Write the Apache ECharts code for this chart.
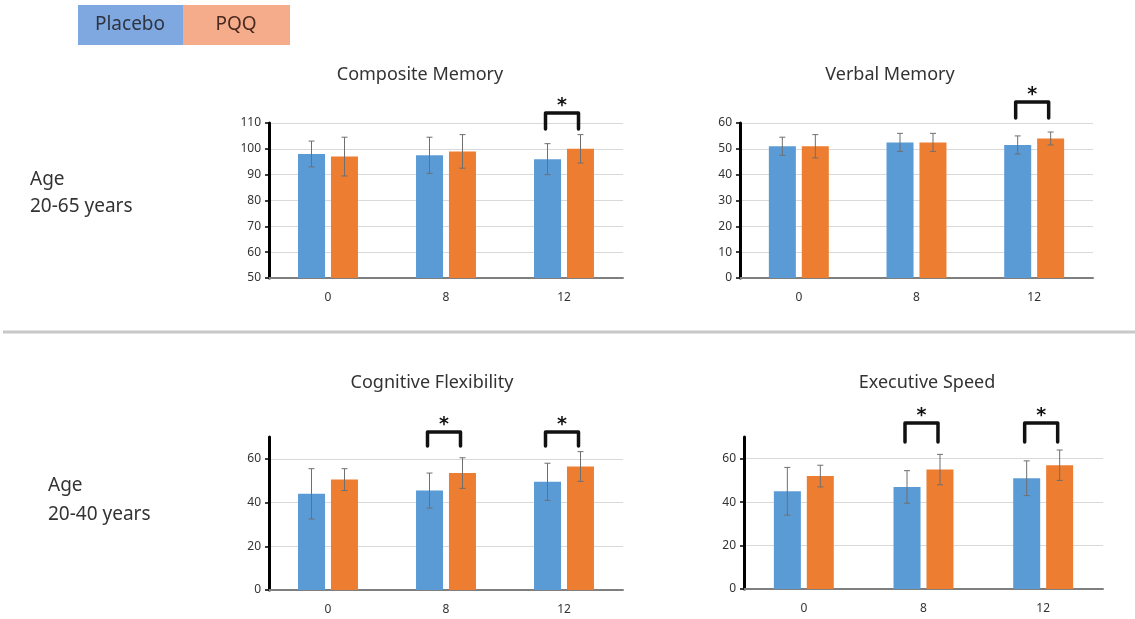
<!DOCTYPE html>
<html>
<head>
<meta charset="utf-8">
<script src="https://cdn.jsdelivr.net/npm/echarts@6/dist/echarts.min.js"></script>
<style>
  html, body { margin: 0; padding: 0; background: #fff; }
  #chart { width: 1135px; height: 619px; }
</style>
</head>
<body>
<div id="chart"></div>
<script>
// weeks
const categories = ['0', '8', '12'];

// Composite Memory (age 20-65)
const compPlacebo = [98, 97.5, 96];
const compPlaceboSd = [5, 7, 6];
const compPqq = [97, 99, 100];
const compPqqSd = [7.5, 6.5, 5.5];
const compSig = [[2, 113.9, 107.7]]; // [category, bracket top, leg end]

// Verbal Memory (age 20-65)
const verbPlacebo = [51, 52.5, 51.5];
const verbPlaceboSd = [3.5, 3.5, 3.5];
const verbPqq = [51, 52.5, 54];
const verbPqqSd = [4.5, 3.5, 2.5];
const verbSig = [[2, 68.1, 61.9]];

// Cognitive Flexibility (age 20-40)
const cogPlacebo = [44, 45.5, 49.5];
const cogPlaceboSd = [11.5, 8, 8.5];
const cogPqq = [50.5, 53.5, 56.5];
const cogPqqSd = [5, 7, 6.8];
const cogSig = [[1, 72.3, 65.9], [2, 72.3, 65.9]];

// Executive Speed (age 20-40)
const exePlacebo = [45, 47, 51];
const exePlaceboSd = [11, 7.5, 8];
const exePqq = [52, 55, 57];
const exePqqSd = [5, 7, 7];
const exeSig = [[1, 76.4, 67.7], [2, 76.4, 67.7]];

const panels = [
  { title: 'Composite Memory', min: 50, max: 110, step: 10, p: compPlacebo, ps: compPlaceboSd, q: compPqq, qs: compPqqSd, sig: compSig,
    grid: { left: 269, top: 123, right: 512, bottom: 341 }, tx: 420, ty: 75 },
  { title: 'Verbal Memory', min: 0, max: 60, step: 10, p: verbPlacebo, ps: verbPlaceboSd, q: verbPqq, qs: verbPqqSd, sig: verbSig,
    grid: { left: 740, top: 123, right: 42, bottom: 341 }, tx: 890, ty: 75 },
  { title: 'Cognitive Flexibility', min: 0, max: 70, step: 20, p: cogPlacebo, ps: cogPlaceboSd, q: cogPqq, qs: cogPqqSd, sig: cogSig,
    grid: { left: 269, top: 437, right: 512, bottom: 29 }, tx: 432, ty: 383 },
  { title: 'Executive Speed', min: 0, max: 70, step: 20, p: exePlacebo, ps: exePlaceboSd, q: exePqq, qs: exePqqSd, sig: exeSig,
    grid: { left: 744, top: 437, right: 32, bottom: 30 }, tx: 927, ty: 383 }
];

const BLUE = '#5B9BD5';
const ORANGE = '#ED7D31';
const BAR_W = 27;
const HALF = 16.5;

const errRender = (offset) => (params, api) => {
  const cat = api.value(0), m = api.value(1), s = api.value(2);
  const hi = api.coord([cat, m + s]);
  const lo = api.coord([cat, m - s]);
  const x = hi[0] + offset;
  const st = { stroke: '#6f6f6f', lineWidth: 1 };
  return {
    type: 'group',
    children: [
      { type: 'line', shape: { x1: x, y1: hi[1], x2: x, y2: lo[1] }, style: st },
      { type: 'line', shape: { x1: x - 3, y1: hi[1], x2: x + 3, y2: hi[1] }, style: st },
      { type: 'line', shape: { x1: x - 3, y1: lo[1], x2: x + 3, y2: lo[1] }, style: st }
    ]
  };
};

const sigRender = (params, api) => {
  const cat = api.value(0);
  const top = api.coord([cat, api.value(1)]);
  const leg = api.coord([cat, api.value(2)]);
  const x1 = top[0] - HALF - 2, x2 = top[0] + HALF - 2;
  return {
    type: 'group',
    children: [
      { type: 'polyline', shape: { points: [[x1, leg[1]], [x1, top[1]], [x2, top[1]], [x2, leg[1]]] },
        style: { stroke: '#111', lineWidth: 3.5, fill: null, lineJoin: 'round', lineCap: 'round' } },
      { type: 'text', x: (x1 + x2) / 2, y: top[1] - 7,
        style: { text: '*', fill: '#111', font: 'bold 19px "DejaVu Sans"', align: 'center', verticalAlign: 'middle' } }
    ]
  };
};

const grids = [], xAxes = [], yAxes = [], series = [], graphics = [];
panels.forEach((pn, i) => {
  grids.push(Object.assign({ containLabel: false }, pn.grid));
  xAxes.push({
    type: 'category', gridIndex: i, data: categories,
    axisLine: { lineStyle: { color: '#7f7f7f', width: 2 } },
    axisTick: { show: false },
    axisLabel: { color: '#333', fontSize: 12, margin: 14, fontFamily: 'Noto Sans' }
  });
  yAxes.push({
    type: 'value', gridIndex: i, min: pn.min, max: pn.max, interval: pn.step,
    axisLine: { show: true, onZero: false, lineStyle: { color: '#000', width: 3 } },
    axisTick: { show: true, length: 4, lineStyle: { color: '#000', width: 1.5 } },
    axisLabel: { color: '#333', fontSize: 12, margin: 8, fontFamily: 'Noto Sans', showMaxLabel: (pn.max - pn.min) % pn.step === 0 },
    splitLine: { lineStyle: { color: '#d9d9d9', width: 1 }, showMaxLine: (pn.max - pn.min) % pn.step === 0 }
  });
  series.push(
    { type: 'bar', name: 'Placebo', xAxisIndex: i, yAxisIndex: i, data: pn.p, barWidth: BAR_W, barGap: '22%',
      itemStyle: { color: BLUE }, silent: true },
    { type: 'bar', name: 'PQQ', xAxisIndex: i, yAxisIndex: i, data: pn.q, barWidth: BAR_W, barGap: '22%',
      itemStyle: { color: ORANGE }, silent: true },
    { type: 'custom', xAxisIndex: i, yAxisIndex: i, z: 5, silent: true, renderItem: errRender(-HALF),
      data: pn.p.map((v, k) => [k, v, pn.ps[k]]) },
    { type: 'custom', xAxisIndex: i, yAxisIndex: i, z: 5, silent: true, renderItem: errRender(HALF),
      data: pn.q.map((v, k) => [k, v, pn.qs[k]]) },
    { type: 'custom', xAxisIndex: i, yAxisIndex: i, z: 6, silent: true, clip: false, renderItem: sigRender,
      data: pn.sig }
  );
  graphics.push({
    type: 'text', x: pn.tx, y: pn.ty,
    style: { text: pn.title, fill: '#333', font: '18px "Noto Sans"', align: 'center', verticalAlign: 'middle' }
  });
});

// legend box, row labels and divider
graphics.push(
  { type: 'rect', shape: { x: 78, y: 5, width: 105, height: 40 }, style: { fill: '#7EA8DF' } },
  { type: 'rect', shape: { x: 183, y: 5, width: 107, height: 40 }, style: { fill: '#F5AC8A' } },
  { type: 'text', x: 130, y: 25, style: { text: 'Placebo', fill: '#2f3440', font: '19px "Noto Sans"', align: 'center', verticalAlign: 'middle' } },
  { type: 'text', x: 236, y: 25, style: { text: 'PQQ', fill: '#4a2a20', font: '19px "Noto Sans"', align: 'center', verticalAlign: 'middle' } },
  { type: 'text', x: 30, y: 180, style: { text: 'Age', fill: '#333', font: '19px "Noto Sans"', verticalAlign: 'middle' } },
  { type: 'text', x: 30, y: 207, style: { text: '20-65 years', fill: '#333', font: '19px "Noto Sans"', verticalAlign: 'middle' } },
  { type: 'text', x: 48, y: 486, style: { text: 'Age', fill: '#333', font: '19px "Noto Sans"', verticalAlign: 'middle' } },
  { type: 'text', x: 48, y: 515, style: { text: '20-40 years', fill: '#333', font: '19px "Noto Sans"', verticalAlign: 'middle' } },
  { type: 'line', shape: { x1: 3, y1: 332, x2: 1135, y2: 332 }, style: { stroke: '#c8c8c8', lineWidth: 3 } }
);

const chart = echarts.init(document.getElementById('chart'));
chart.setOption({
  animation: false,
  backgroundColor: '#fff',
  grid: grids,
  xAxis: xAxes,
  yAxis: yAxes,
  series: series,
  graphic: graphics
});
</script>
</body>
</html>
